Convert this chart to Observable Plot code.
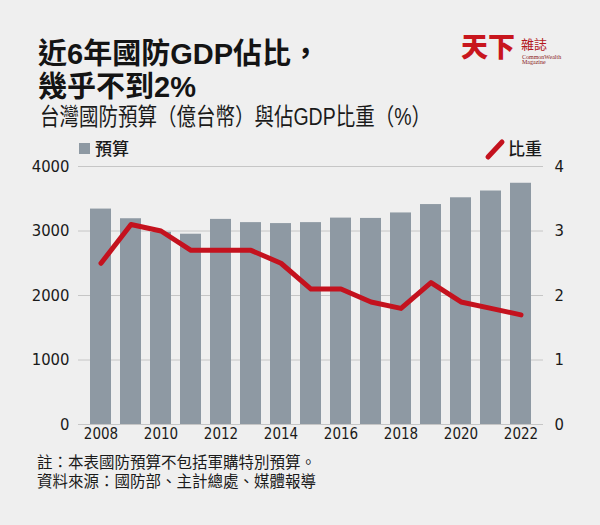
<!DOCTYPE html>
<html><head><meta charset="utf-8">
<script src="https://cdn.jsdelivr.net/npm/d3@7"></script>
<script src="https://cdn.jsdelivr.net/npm/@observablehq/plot@0.6"></script>
<style>
body{margin:0;background:#efefef;}
#root{position:relative;width:600px;height:525px;background:#efefef;overflow:hidden;font-family:"Liberation Sans","Noto Sans CJK TC",sans-serif;color:#1a1a1a;}
.abs{position:absolute;white-space:nowrap;}
</style></head><body>
<div id="root">
  <div class="abs" style="left:38px;top:38px;font-size:29px;line-height:32.5px;font-weight:700;color:#141414;">近6年國防GDP佔比，<br>幾乎不到2%</div>
  <svg class="abs" style="left:0;top:95px" width="600" height="36"><text x="40" y="29.7" font-size="23.5" textLength="391" lengthAdjust="spacingAndGlyphs" fill="#1a1a1a" style="font-family:'Liberation Sans','Noto Sans CJK TC',sans-serif">台灣國防預算（億台幣）與佔GDP比重（%）</text></svg>
  <div class="abs" style="left:461px;top:33px;font-size:27px;line-height:30px;font-weight:900;color:#c8161d;">天下</div>
  <div class="abs" style="left:521px;top:38px;font-size:13px;line-height:14px;color:#b3171d;">雜誌</div>
  <div class="abs" style="left:522px;top:55px;font-size:6px;line-height:5px;color:#8a1a1a;font-family:'Liberation Serif',serif;">CommonWealth<br>Magazine</div>
  <div class="abs" style="left:79px;top:143px;width:11px;height:11px;background:#8e99a3;"></div>
  <div class="abs" style="left:95px;top:140px;font-size:17px;line-height:20px;font-weight:500;">預算</div>
  <svg class="abs" style="left:484px;top:138px" width="22" height="24"><line x1="4" y1="19" x2="18" y2="4" stroke="#c4121e" stroke-width="5" stroke-linecap="round"/></svg>
  <div class="abs" style="left:508px;top:140px;font-size:17px;line-height:20px;font-weight:500;">比重</div>
  <div id="chart" class="abs" style="left:0;top:130px"></div>
  <div class="abs" style="left:37px;top:453px;font-size:15.5px;line-height:19px;">註：本表國防預算不包括軍購特別預算。<br>資料來源：國防部、主計總處、媒體報導</div>
</div>
<script>
const years = [2008, 2009, 2010, 2011, 2012, 2013, 2014, 2015, 2016, 2017, 2018, 2019, 2020, 2021, 2022];
const budget = [3340, 3190, 2980, 2950, 3180, 3130, 3115, 3130, 3200, 3195, 3280, 3410, 3515, 3620, 3740];
const ratio = [2.5, 3.1, 3.0, 2.7, 2.7, 2.7, 2.5, 2.1, 2.1, 1.9, 1.8, 2.2, 1.9, 1.8, 1.7];
const xTicks = [2008, 2010, 2012, 2014, 2016, 2018, 2020, 2022];
const yTicks = [0, 1000, 2000, 3000, 4000];
const y2Ticks = [0, 1, 2, 3, 4];

const k = yTicks[yTicks.length - 1] / y2Ticks[y2Ticks.length - 1];
const rows = years.map((year, i) => ({year, budget: budget[i], ratio: ratio[i]}));
const numFont = "'Liberation Sans Narrow','DejaVu Sans Condensed',Roboto,sans-serif";

const chart = Plot.plot({
  width: 600,
  height: 320,
  marginTop: 36,
  marginBottom: 26,
  marginLeft: 78,
  marginRight: 57,
  style: {background: "transparent", color: "#1a1a1a", fontFamily: numFont, fontSize: "16px"},
  x: {type: "band", domain: years, paddingInner: 0.306, paddingOuter: 0.338, label: null},
  y: {domain: [0, 4000], label: null},
  marks: [
    Plot.ruleY(yTicks, {stroke: "#c6c6c6", strokeWidth: 1}),
    Plot.barY(rows, {x: "year", y: "budget", fill: "#8e99a3"}),
    Plot.lineY(rows, {x: "year", y: d => d.ratio * k, stroke: "#c4121e", strokeWidth: 5, strokeLinejoin: "round"}),
    Plot.axisX({ticks: xTicks, tickSize: 0, tickPadding: 4, fontSize: 15, label: null, tickFormat: d => String(d)}),
    Plot.axisY({anchor: "left", ticks: yTicks, tickSize: 0, tickPadding: 9, fontSize: 16.5, label: null, tickFormat: d => String(d)}),
    Plot.axisY({anchor: "right", ticks: yTicks, tickSize: 0, tickPadding: 11, fontSize: 16.5, label: null,
      tickFormat: (d) => String(y2Ticks[yTicks.indexOf(d)])})
  ]
});
document.getElementById("chart").appendChild(chart);
</script>
</body></html>
